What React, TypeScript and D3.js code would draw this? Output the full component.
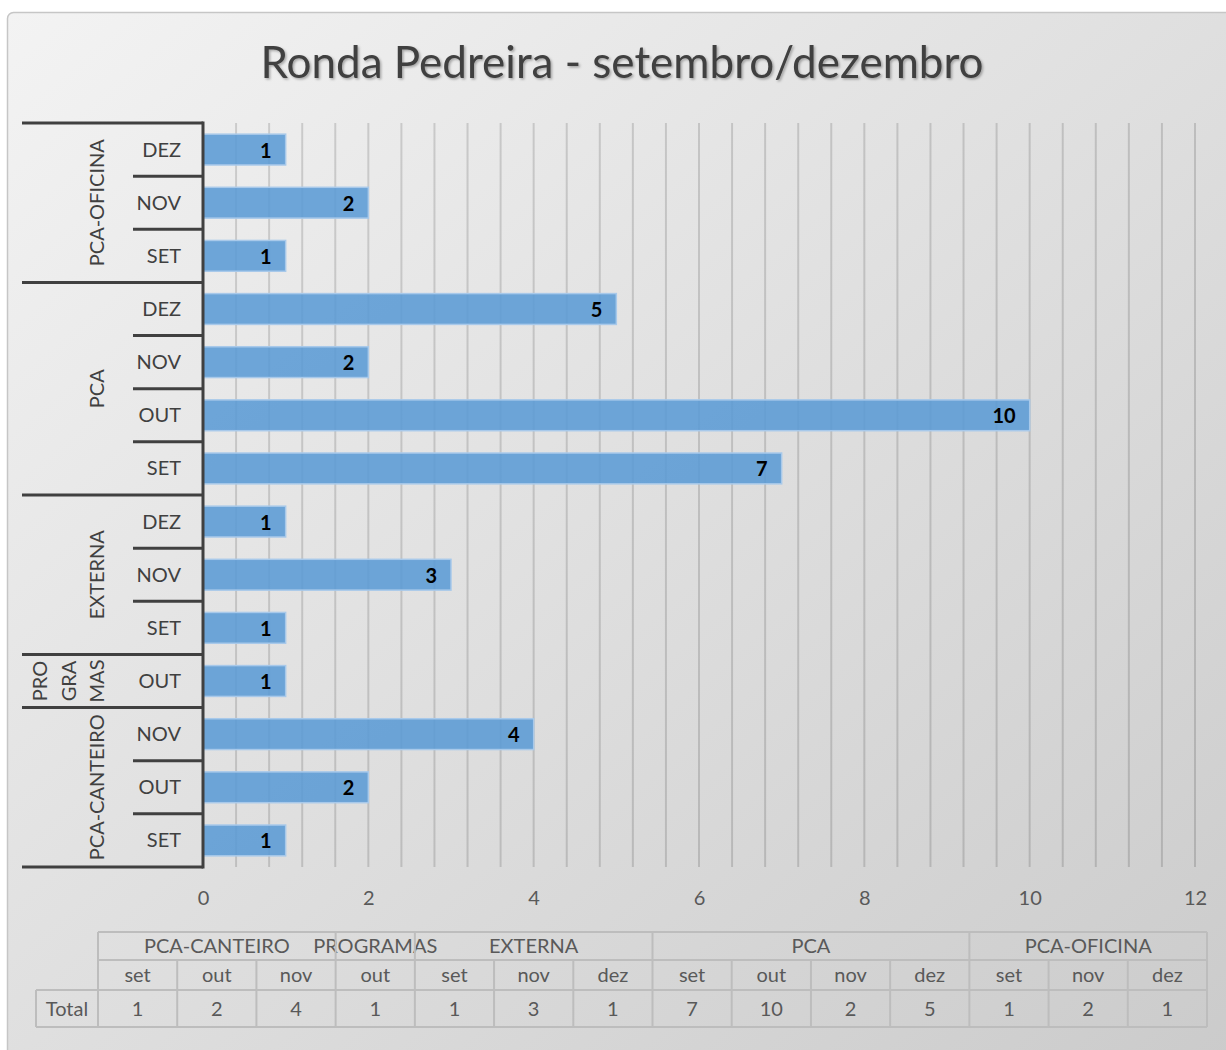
import { useEffect, useRef } from "react";
import * as d3 from "d3";

// chart data
const groupNames = ["PCA-CANTEIRO", "PROGRAMAS", "EXTERNA", "PCA", "PCA-OFICINA"];
const groupMonths = [
  ["set", "out", "nov"],
  ["out"],
  ["set", "nov", "dez"],
  ["set", "out", "nov", "dez"],
  ["set", "nov", "dez"],
];
const totals = [1, 2, 4, 1, 1, 3, 1, 7, 10, 2, 5, 1, 2, 1];
const xTicks = [0, 2, 4, 6, 8, 10, 12];
const title = "Ronda Pedreira - setembro/dezembro";

const W = 1226;
const H = 1050;
const FONT = "Lato, 'Open Sans', sans-serif";

const App = () => {
  const svgRef = useRef(null);

  useEffect(() => {
    // flatten rows (bottom -> top)
    const rows = [];
    groupNames.forEach((g, gi) => {
      groupMonths[gi].forEach((m) => {
        rows.push({ key: g + "|" + m, group: g, gi, month: m, value: totals[rows.length] });
      });
    });

    const plot = { left: 203, right: 1195, top: 123, bottom: 867 };
    const x = d3.scaleLinear().domain([0, 12]).range([plot.left, plot.right]);
    const y = d3
      .scaleBand()
      .domain(rows.map((r) => r.key))
      .range([plot.bottom, plot.top])
      .paddingInner(0.42)
      .paddingOuter(0.21);
    const step = y.step();
    const rowTop = (k) => y(k) - step * 0.21;
    const rowBottom = (k) => y(k) + y.bandwidth() + step * 0.21;

    const svgEl = d3.select(svgRef.current);
    svgEl.selectAll("*").remove();

    const defs = svgEl.append("defs");
    const grad = defs
      .append("linearGradient")
      .attr("id", "bg")
      .attr("x1", 0)
      .attr("y1", 0)
      .attr("x2", 1)
      .attr("y2", 1);
    grad.append("stop").attr("offset", "0%").attr("stop-color", "#f3f3f3");
    grad.append("stop").attr("offset", "100%").attr("stop-color", "#cbcbcb");
    const shadow = defs.append("filter").attr("id", "shadow").attr("x", "-5%").attr("y", "-20%").attr("width", "110%").attr("height", "150%");
    shadow
      .append("feDropShadow")
      .attr("dx", 1.5)
      .attr("dy", 1.5)
      .attr("stdDeviation", 1.2)
      .attr("flood-color", "#000")
      .attr("flood-opacity", 0.3);

    svgEl.append("rect").attr("width", W).attr("height", H).attr("fill", "#fff");
    svgEl
      .append("rect")
      .attr("x", 7.5)
      .attr("y", 12.5)
      .attr("width", W)
      .attr("height", H)
      .attr("rx", 6)
      .attr("fill", "url(#bg)")
      .attr("stroke", "#c6c6c6")
      .attr("stroke-width", 1.5);

    // title
    svgEl
      .append("text")
      .attr("x", 622)
      .attr("y", 78)
      .attr("text-anchor", "middle")
      .attr("font-family", FONT)
      .attr("font-size", 44)
      .attr("fill", "#404040")
      .attr("filter", "url(#shadow)")
      .text(title);

    // gridlines every 0.4
    const grid = d3.range(1, 31).map((i) => i * 0.4);
    svgEl
      .append("g")
      .selectAll("line")
      .data(grid)
      .enter()
      .append("line")
      .attr("x1", (d) => x(d))
      .attr("x2", (d) => x(d))
      .attr("y1", plot.top)
      .attr("y2", plot.bottom)
      .attr("stroke", "rgba(0,0,0,0.14)")
      .attr("stroke-width", 2);

    // bars
    svgEl
      .append("g")
      .selectAll("rect")
      .data(rows)
      .enter()
      .append("rect")
      .attr("x", x(0))
      .attr("y", (d) => y(d.key))
      .attr("width", (d) => x(d.value) - x(0))
      .attr("height", y.bandwidth())
      .attr("fill", "#5b9bd5")
      .attr("fill-opacity", 0.88)
      .attr("stroke", "#a8c9ea")
      .attr("stroke-width", 1.5);

    // data labels
    svgEl
      .append("g")
      .selectAll("text")
      .data(rows)
      .enter()
      .append("text")
      .attr("x", (d) => x(d.value) - 14)
      .attr("y", (d) => y(d.key) + y.bandwidth() / 2 + 8)
      .attr("text-anchor", "end")
      .attr("font-family", FONT)
      .attr("font-weight", "bold")
      .attr("font-size", 20)
      .attr("fill", "#000")
      .text((d) => d.value);

    // category axis
    const axis = svgEl.append("g").attr("stroke", "#404040").attr("stroke-width", 3);
    axis
      .append("line")
      .attr("x1", plot.left)
      .attr("x2", plot.left)
      .attr("y1", plot.top - 1.5)
      .attr("y2", plot.bottom + 1.5);
    // separators between rows inside a group
    rows.forEach((r, i) => {
      if (i === 0) return;
      const sameGroup = rows[i - 1].gi === r.gi;
      axis
        .append("line")
        .attr("x1", sameGroup ? 133 : 22)
        .attr("x2", plot.left)
        .attr("y1", rowBottom(r.key))
        .attr("y2", rowBottom(r.key));
    });
    axis.append("line").attr("x1", 22).attr("x2", plot.left).attr("y1", plot.top).attr("y2", plot.top);
    axis.append("line").attr("x1", 22).attr("x2", plot.left).attr("y1", plot.bottom).attr("y2", plot.bottom);

    // month labels
    svgEl
      .append("g")
      .selectAll("text")
      .data(rows)
      .enter()
      .append("text")
      .attr("x", 181)
      .attr("y", (d) => y(d.key) + y.bandwidth() / 2 + 7)
      .attr("text-anchor", "end")
      .attr("font-family", FONT)
      .attr("font-size", 20)
      .attr("fill", "#404040")
      .text((d) => d.month.toUpperCase());

    // group labels (rotated)
    groupNames.forEach((g, gi) => {
      const gRows = rows.filter((r) => r.gi === gi);
      const top = rowTop(gRows[gRows.length - 1].key);
      const bottom = rowBottom(gRows[0].key);
      const cy = (top + bottom) / 2;
      const lines = gRows.length === 1 ? g.match(/.{1,3}/g) : [g];
      lines.forEach((txt, li) => {
        const cx = 97 - (lines.length - 1 - li) * 28.5;
        svgEl
          .append("text")
          .attr("transform", `translate(${cx + 7},${cy}) rotate(-90)`)
          .attr("text-anchor", "middle")
          .attr("font-family", FONT)
          .attr("font-size", 20)
          .attr("fill", "#404040")
          .text(txt);
      });
    });

    // value axis
    const xAxis = d3.axisBottom(x).tickValues(xTicks).tickSize(0).tickPadding(0);
    const xg = svgEl.append("g").attr("transform", `translate(0,905)`).call(xAxis);
    xg.select(".domain").remove();
    xg.selectAll("text")
      .attr("dy", 0)
      .attr("font-family", FONT)
      .attr("font-size", 20)
      .attr("fill", "#595959");

    // data table
    const cols = d3.scaleBand().domain(rows.map((r) => r.key)).range([98, 1207]);
    const ty = [932, 960, 990, 1027];
    const tbl = svgEl.append("g").attr("font-family", FONT).attr("font-size", 20).attr("fill", "#595959");
    const tl = svgEl.append("g").attr("stroke", "#bdbdbd").attr("stroke-width", 2);
    // horizontal lines
    tl.append("line").attr("x1", 98).attr("x2", 1207).attr("y1", ty[0]).attr("y2", ty[0]);
    tl.append("line").attr("x1", 98).attr("x2", 1207).attr("y1", ty[1]).attr("y2", ty[1]);
    tl.append("line").attr("x1", 36).attr("x2", 1207).attr("y1", ty[2]).attr("y2", ty[2]);
    tl.append("line").attr("x1", 36).attr("x2", 1207).attr("y1", ty[3]).attr("y2", ty[3]);
    tl.append("line").attr("x1", 36).attr("x2", 36).attr("y1", ty[2]).attr("y2", ty[3]);
    rows.forEach((r, i) => {
      const cx0 = cols(r.key);
      const groupStart = i === 0 || rows[i - 1].gi !== r.gi;
      tl.append("line")
        .attr("x1", cx0)
        .attr("x2", cx0)
        .attr("y1", groupStart ? ty[0] : ty[1])
        .attr("y2", ty[3]);
      tbl.append("text")
        .attr("x", cx0 + cols.bandwidth() / 2)
        .attr("y", 982)
        .attr("text-anchor", "middle")
        .text(r.month);
      tbl.append("text")
        .attr("x", cx0 + cols.bandwidth() / 2)
        .attr("y", 1016)
        .attr("text-anchor", "middle")
        .text(r.value);
    });
    tl.append("line").attr("x1", 1207).attr("x2", 1207).attr("y1", ty[0]).attr("y2", ty[3]);
    groupNames.forEach((g, gi) => {
      const gRows = rows.filter((r) => r.gi === gi);
      const a = cols(gRows[0].key);
      const b = cols(gRows[gRows.length - 1].key) + cols.bandwidth();
      tbl.append("text")
        .attr("x", (a + b) / 2)
        .attr("y", 953)
        .attr("text-anchor", "middle")
        .text(g);
    });
    tbl.append("text").attr("x", 67).attr("y", 1016).attr("text-anchor", "middle").text("Total");
  }, []);

  return (
    <svg
      ref={svgRef}
      width={W}
      height={H}
      style={{ position: "absolute", left: 0, top: 0, display: "block" }}
    />
  );
};

export default App;
